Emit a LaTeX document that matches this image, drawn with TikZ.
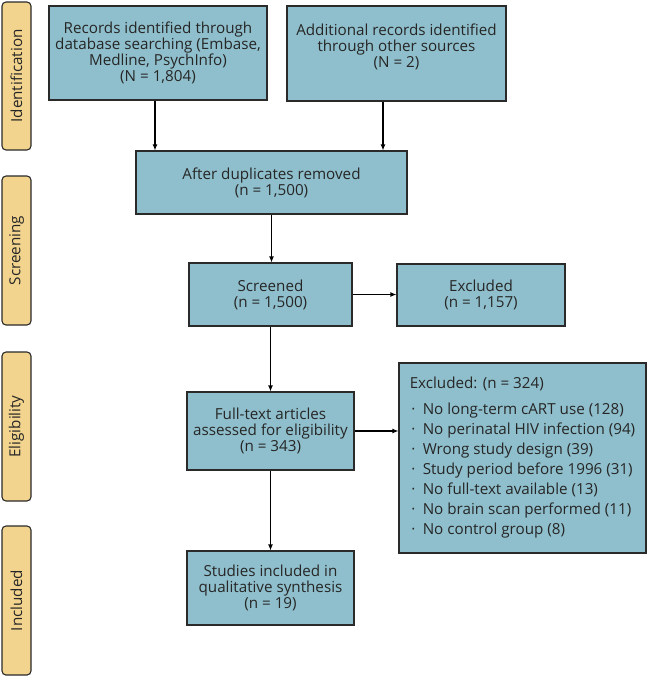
\documentclass[tikz,border=0pt]{standalone}
\usepackage{fontspec}
\setmainfont{Open Sans}
\usetikzlibrary{arrows.meta,calc}
\definecolor{boxfill}{HTML}{8FBFCC}
\definecolor{labfill}{HTML}{F2D48E}
\definecolor{edge}{HTML}{2A2A2A}
\tikzset{
  flowbox/.style={draw=edge, fill=boxfill, line width=1.1pt, align=center, inner sep=0pt,
    font=\fontsize{15.2}{16}\selectfont, text=black!85},
  phase/.style={draw=edge, fill=labfill, line width=1.1pt, rounded corners=4pt, inner sep=0pt,
    minimum width=29pt},
  phasetext/.style={rotate=90, font=\fontsize{15.2}{16}\selectfont, text=black!85},
  arr/.style={draw=black, line width=1.1pt, -{Latex[length=6pt,width=5pt]}},
}
\begin{document}
\begin{tikzpicture}[x=1pt,y=-1pt]
\useasboundingbox (0,0) rectangle (646,678);
% phase labels
\node[phase, minimum height=148pt] (pid) at (16.5,76) {};
\node[phasetext] (tid) at (pid.center) {Identification};
\node[phase, minimum height=149pt] (psc) at (16.5,250.5) {};
\node[phasetext] (tsc) at (psc.center) {Screening};
\node[phase, minimum height=149pt] (pel) at (16.5,426.5) {};
\node[phasetext] (tel) at (pel.center) {Eligibility};
\node[phase, minimum height=149pt] (pin) at (16.5,600.5) {};
\node[phasetext] (tin) at (pin.center) {Included};
% boxes
\node[flowbox, minimum width=218pt, minimum height=94pt] (b1) at (158,53)
  {Records identified through\\database searching (Embase,\\Medline, PsychInfo)\\(N = 1,804)};
\node[flowbox, minimum width=219pt, minimum height=95pt] (b2) at (396.5,53.5)
  {Additional records identified\\through other sources\\(N = 2)\\\mbox{}};
\node[flowbox, minimum width=271pt, minimum height=63pt] (dup) at (271.5,182.5)
  {After duplicates removed\\(n = 1,500)};
\node[flowbox, minimum width=163pt, minimum height=63pt] (scr) at (270.5,294.5)
  {Screened\\(n = 1,500)};
\node[flowbox, minimum width=168pt, minimum height=62pt] (ex1) at (481,295)
  {Excluded\\(n = 1,157)};
\node[flowbox, minimum width=167pt, minimum height=78pt] (ft) at (270.5,431)
  {Full-text articles\\assessed for eligibility\\(n = 343)};
\node[flowbox, minimum width=247pt, minimum height=190pt, align=left,
  font=\fontsize{15.2}{20}\selectfont] (ex2) at (522.5,458)
  {Excluded: (n = 324)\\[6pt]
   \makebox[13pt][l]{\hspace{1.5pt}·}No long-term cART use (128)\\
   \makebox[13pt][l]{\hspace{1.5pt}·}No perinatal HIV infection (94)\\
   \makebox[13pt][l]{\hspace{1.5pt}·}Wrong study design (39)\\
   \makebox[13pt][l]{\hspace{1.5pt}·}Study period before 1996 (31)\\
   \makebox[13pt][l]{\hspace{1.5pt}·}No full-text available (13)\\
   \makebox[13pt][l]{\hspace{1.5pt}·}No brain scan performed (11)\\
   \makebox[13pt][l]{\hspace{1.5pt}·}No control group (8)};
\node[flowbox, minimum width=167pt, minimum height=74pt] (st) at (270.5,588)
  {Studies included in\\qualitative synthesis\\(n = 19)};
% connectors
\draw[arr] ([xshift=-3pt]b1.south) -- ([xshift=-3pt]b1.south |- dup.north);
\draw[arr] ([xshift=-13.5pt]b2.south) -- ([xshift=-13.5pt]b2.south |- dup.north);
\draw[arr] (dup.south) -- (dup.south |- scr.north);
\draw[arr] (scr.east) -- (scr.east -| ex1.west);
\draw[arr] (scr.south) -- (ft.north);
\draw[arr] (ft.east) -- (ft.east -| ex2.west);
\draw[arr] (ft.south) -- (st.north);
\end{tikzpicture}
\end{document}
